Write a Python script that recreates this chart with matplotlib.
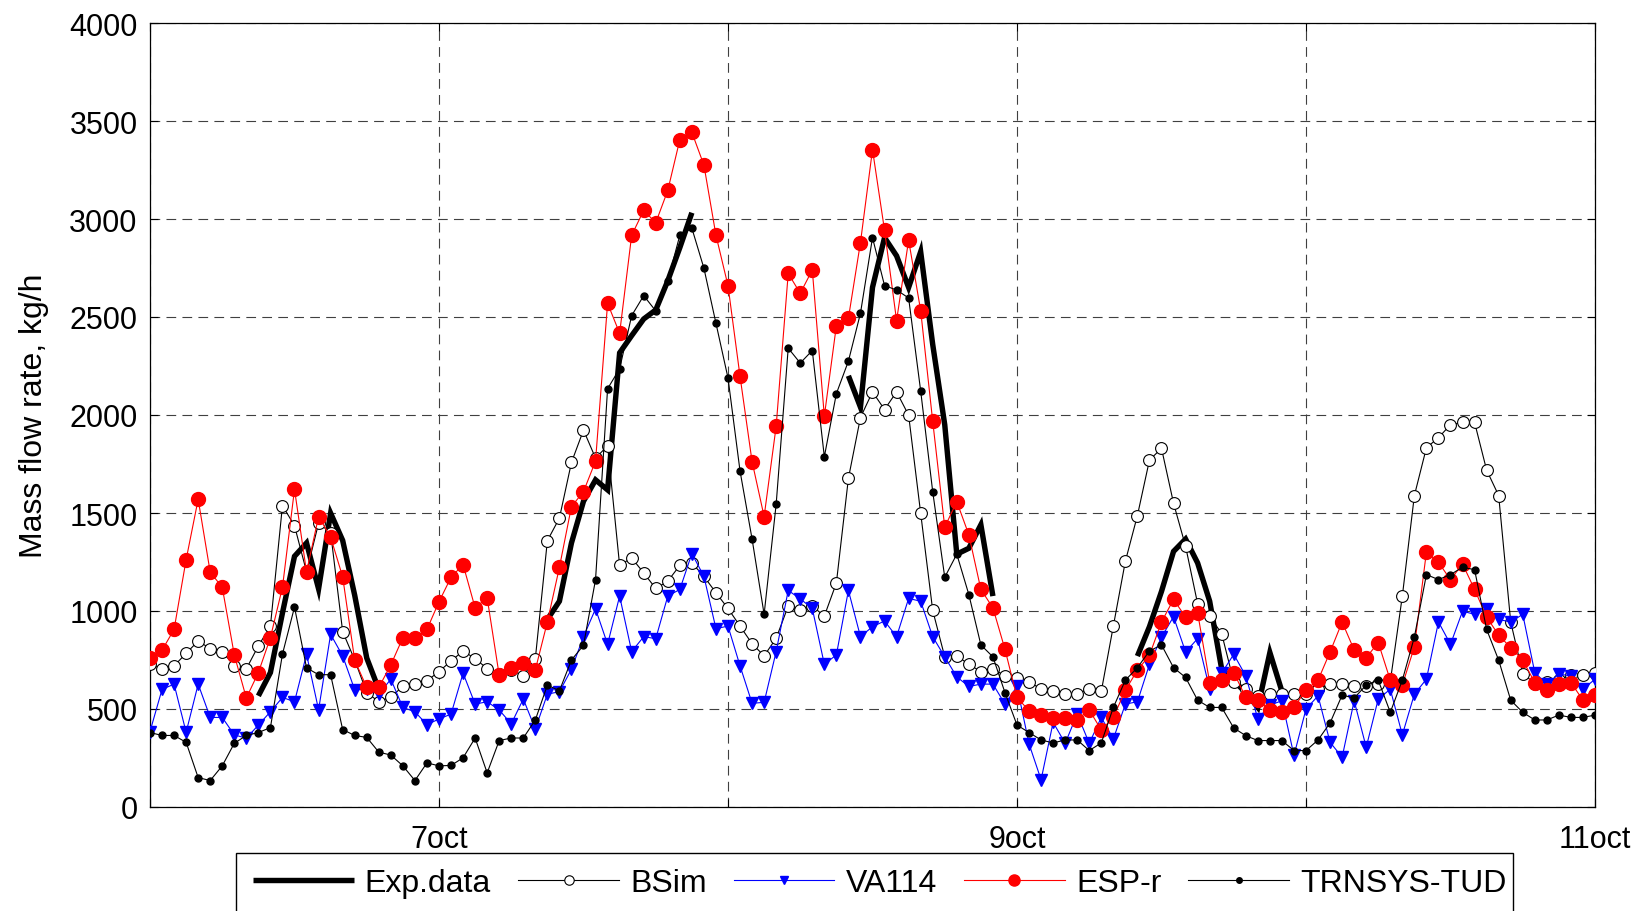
import numpy as np
import matplotlib
matplotlib.use("Agg")
import matplotlib.pyplot as plt
from matplotlib.patches import Rectangle

plt.rcParams['font.family'] = ['Liberation Sans', 'DejaVu Sans']
plt.rcParams['lines.scale_dashes'] = False

# hourly samples, 6 oct 00:00 .. 11 oct 00:00
hours = np.arange(121)
day_ticks = [6, 7, 8, 9, 10, 11]
day_labels = ['', '7oct', '', '9oct', '', '11oct']

# mass flow rate, kg/h (None = no measurement)
exp_data = [
    None, None, None, None, None, None, None, None, None, 567,
    686, 990, 1279, 1347, 1113, 1499, 1360, 1080, 760, 600,
    None, None, None, None, None, None, None, None, None, None,
    None, None, None, 957, 1050, 1347, 1560, 1669, 1618, 2317,
    2405, 2490, 2536, 2685, 2854, 3032, None, None, None, None,
    None, None, None, None, None, None, None, None, 2200, 2040,
    2651, 2905, 2812, 2651, 2833, 2360, 1950, 1290, 1320, 1440,
    1076, None, None, None, None, None, None, None, None, None,
    None, None, 770, 920, 1100, 1304, 1367, 1245, 1050, 703,
    644, 584, 508, 788, 590, None, None, None, None, None,
    None, None, None, None, None, None, None, None, None, None,
    None, None, None, None, None, None, None, None, None, None,
    None]

bsim = [
    730, 703, 720, 784, 847, 808, 793, 720, 705, 822,
    923, 1538, 1435, 1200, 1448, 1400, 895, 750, 584, 537,
    562, 615, 627, 644, 691, 745, 796, 757, 706, 680,
    700, 669, 757, 1359, 1474, 1758, 1923, 1780, 1843, 1233,
    1271, 1194, 1115, 1152, 1233, 1245, 1177, 1093, 1013, 923,
    833, 771, 861, 1025, 1003, 1025, 974, 1143, 1677, 1987,
    2118, 2028, 2118, 1999, 1499, 1003, 766, 771, 728, 691,
    706, 669, 656, 640, 601, 590, 579, 579, 601, 590,
    923, 1254, 1487, 1770, 1830, 1550, 1330, 1037, 974, 884,
    639, 600, 567, 579, 579, 579, 576, 601, 627, 630,
    618, 615, 627, 640, 1076, 1589, 1833, 1884, 1951, 1962,
    1962, 1719, 1589, 944, 681, 630, 640, 650, 672, 672,
    683]

va114 = [
    385, 600, 627, 381, 627, 457, 457, 368, 351, 418,
    486, 559, 537, 779, 496, 881, 771, 598, 600, 576,
    652, 508, 486, 420, 449, 474, 683, 525, 537, 495,
    424, 551, 398, 576, 588, 703, 869, 1011, 830, 1076,
    793, 869, 859, 1076, 1110, 1293, 1177, 910, 923, 720,
    529, 534, 793, 1105, 1062, 1013, 728, 776, 1105, 869,
    920, 949, 869, 1064, 1050, 869, 766, 664, 615, 627,
    627, 525, 615, 322, 139, 432, 325, 474, 325, 457,
    347, 525, 537, 728, 867, 971, 791, 859, 601, 683,
    779, 669, 449, 520, 542, 263, 500, 567, 330, 254,
    542, 305, 551, 601, 368, 576, 652, 944, 830, 999,
    983, 1011, 957, 944, 983, 686, 627, 678, 669, 601,
    652]

esp_r = [
    760, 800, 906, 1262, 1570, 1198, 1121, 776, 556, 686,
    864, 1121, 1621, 1199, 1482, 1377, 1174, 749, 610, 610,
    725, 864, 864, 906, 1047, 1172, 1237, 1016, 1067, 672,
    711, 737, 700, 944, 1223, 1533, 1609, 1765, 2570, 2417,
    2917, 3044, 2981, 3146, 3405, 3442, 3275, 2917, 2660, 2197,
    1762, 1482, 1943, 2722, 2621, 2740, 1994, 2456, 2494, 2880,
    3354, 2942, 2482, 2892, 2533, 1968, 1428, 1558, 1389, 1110,
    1016, 805, 559, 491, 469, 454, 454, 446, 495, 393,
    457, 596, 698, 774, 944, 1059, 969, 991, 635, 647,
    686, 559, 545, 495, 483, 508, 598, 647, 791, 944,
    801, 762, 839, 647, 622, 817, 1301, 1248, 1160, 1240,
    1110, 969, 877, 813, 749, 635, 598, 627, 635, 545,
    571]

trnsys = [
    380, 365, 365, 330, 150, 135, 210, 325, 365, 380,
    405, 780, 1020, 710, 675, 675, 395, 365, 355, 280,
    265, 210, 135, 225, 210, 212, 251, 352, 174, 339,
    352, 352, 444, 622, 593, 750, 825, 1160, 2134, 2236,
    2507, 2609, 2531, 2685, 2917, 2953, 2749, 2468, 2189, 1714,
    1367, 983, 1545, 2341, 2265, 2329, 1787, 2109, 2275, 2519,
    2905, 2660, 2638, 2597, 2123, 1609, 1172, 1290, 1084, 827,
    766, 584, 418, 380, 342, 327, 342, 342, 288, 327,
    508, 647, 711, 796, 827, 711, 661, 545, 508, 508,
    403, 364, 339, 339, 339, 288, 288, 342, 429, 571,
    556, 622, 647, 483, 647, 867, 1186, 1160, 1186, 1223,
    1211, 906, 749, 545, 483, 444, 444, 469, 457, 457,
    469]

W, H = 1648, 912
fig = plt.figure(figsize=(W / 100, H / 100), dpi=100)
ax = fig.add_axes([150 / W, 1 - 808 / H, (1595 - 150) / W, (808 - 24) / H])

x = 6 + hours / 24.0
exp_arr = np.array([np.nan if v is None else v for v in exp_data], dtype=float)

ax.plot(x, exp_arr, color='black', lw=3.9, solid_joinstyle='miter',
        solid_capstyle='butt', label='Exp.data', zorder=2)
ax.plot(x, bsim, color='black', lw=0.8, marker='o', ms=8.5, mfc='white',
        mec='black', mew=0.8, label='BSim', zorder=3)
ax.plot(x, va114, color='blue', lw=0.8, marker='v', ms=8, mfc='blue',
        mec='blue', label='VA114', zorder=4)
ax.plot(x, esp_r, color='red', lw=0.8, marker='o', ms=10, mfc='red',
        mec='red', label='ESP-r', zorder=5)
ax.plot(x, trnsys, color='black', lw=0.8, marker='o', ms=5, mfc='black',
        mec='black', label='TRNSYS-TUD', zorder=6)

ax.set_xlim(6, 11)
ax.set_ylim(0, 4000)
ax.set_xticks(day_ticks)
ax.set_xticklabels(day_labels)
ax.set_yticks(np.arange(0, 4001, 500))
ax.tick_params(direction='in', top=True, right=True, length=6, width=0.8,
               labelsize=22)
ax.tick_params(axis='x', pad=12)
ax.tick_params(axis='y', pad=9)
ax.grid(True, color='0.25', lw=0.8, linestyle=(0, (7, 4.5)))
for s in ax.spines.values():
    s.set_linewidth(0.9)

ax.set_ylabel('Mass flow rate, kg/h', fontsize=23)
ax.yaxis.set_label_coords((49 - 150) / (1595 - 150), 0.5)

leg = ax.legend(ncol=5, frameon=False, loc='center left',
                bbox_to_anchor=(253 / W, 1 - 884 / H),
                bbox_transform=fig.transFigure, borderpad=0, borderaxespad=0,
                handlelength=3.15, handletextpad=0.35, columnspacing=0.85,
                fontsize=23, numpoints=1, markerscale=0.8)
fig.patches.append(Rectangle((236 / W, -0.2), (1513 - 236) / W, 0.2 + 1 - 854 / H,
                             transform=fig.transFigure, fill=False,
                             lw=1.0, ec='black'))

fig.savefig('out.png', dpi=100)
